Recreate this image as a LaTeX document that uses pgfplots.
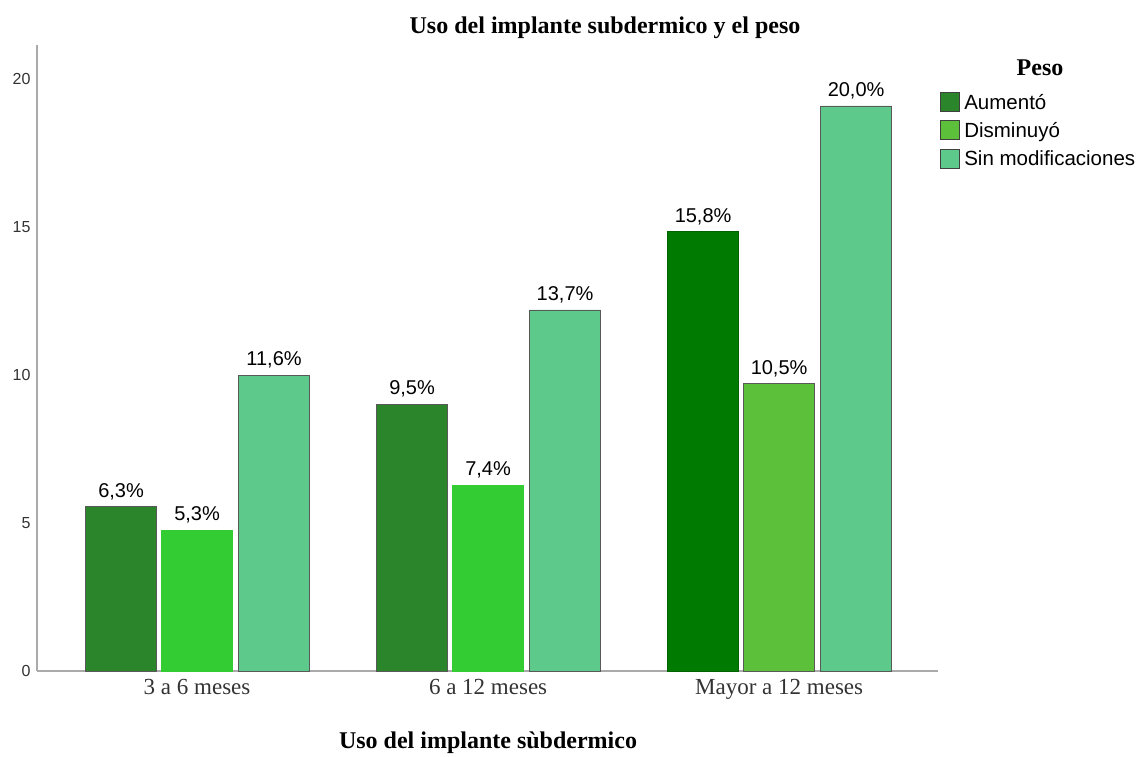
\documentclass[border=0pt]{standalone}
\usepackage{fontspec}
\setmainfont{Liberation Serif}
\setsansfont{Liberation Sans}
\usepackage{pgfplots}
\pgfplotsset{compat=1.18}
\definecolor{aumA}{HTML}{2B862B}
\definecolor{aumB}{HTML}{007A00}
\definecolor{disA}{HTML}{33CC33}
\definecolor{disB}{HTML}{5DC03A}
\definecolor{sinC}{HTML}{5DC98B}
\definecolor{axgray}{HTML}{AAAAAA}
\begin{document}
\begin{tikzpicture}
\path[use as bounding box] (0,0) rectangle (1140pt,756pt);
\begin{axis}[
  at={(37pt,85pt)}, anchor=south west,
  scale only axis, width=901pt, height=626pt,
  xmin=-0.55, xmax=2.546, ymin=0, ymax=21.15,
  axis x line=bottom, axis y line=left,
  axis line style={-, axgray, line width=1.5pt},
  major tick length=0pt,
  /pgf/number format/assume math mode=true,
  xtick={0,1,2},
  xticklabels={3 a 6 meses, 6 a 12 meses, Mayor a 12 meses},
  ytick={0,5,10,15,20},
  xticklabel style={font=\rmfamily\fontsize{23}{25}\selectfont, text=black!80, yshift=-5pt},
  yticklabel style={font=\sffamily\fontsize{16}{18}\selectfont, text=black!80, xshift=-3pt},
  ybar, bar width=71pt,
  point meta=explicit symbolic,
  nodes near coords,
  nodes near coords style={font=\sffamily\fontsize{20}{22}\selectfont, anchor=south, yshift=3pt},
  legend style={at={(1.002,0.925)}, anchor=north west, draw=none, fill=none,
    font=\sffamily\fontsize{20.5}{22.5}\selectfont, inner sep=0pt, row sep=7.5pt,
    legend cell align=left, /tikz/every odd column/.append style={column sep=2.5pt}},
  legend image code/.code={\draw[#1, draw=black!75, line width=0.8pt] (0pt,-9pt) rectangle (19pt,10pt);},
]
\addplot[fill=aumA, draw=black!65, line width=0.8pt, bar shift=-76pt] table[meta=l] {
x y l
0 5.55 {6,3\%}
1 9.02 {9,5\%}
};
\addlegendentry{Aumentó}
\addplot[fill=aumB, draw=aumB!80!black, line width=0.5pt, bar shift=-76pt, forget plot] table[meta=l] {
x y l
2 14.86 {15,8\%}
};
\addplot[fill=disA, draw=disA, line width=0.5pt, bar shift=0pt, forget plot] table[meta=l] {
x y l
0 4.76 {5,3\%}
1 6.28 {7,4\%}
};
\addplot[fill=disB, draw=black!65, line width=0.8pt, bar shift=0pt] table[meta=l] {
x y l
2 9.70 {10,5\%}
};
\addlegendentry{Disminuyó}
\addplot[fill=sinC, draw=black!65, line width=0.8pt, bar shift=77pt] table[meta=l] {
x y l
0 10.00 {11,6\%}
1 12.20 {13,7\%}
2 19.09 {20,0\%}
};
\addlegendentry{Sin modificaciones}
\end{axis}
\node[font=\rmfamily\bfseries\fontsize{24}{26}\selectfont] at (605pt,728pt) {Uso del implante subdermico y el peso};
\node[font=\rmfamily\bfseries\fontsize{24}{26}\selectfont] at (488pt,13pt) {Uso del implante sùbdermico};
\node[font=\rmfamily\bfseries\fontsize{24}{26}\selectfont] at (1040pt,688pt) {Peso};
\end{tikzpicture}
\end{document}
